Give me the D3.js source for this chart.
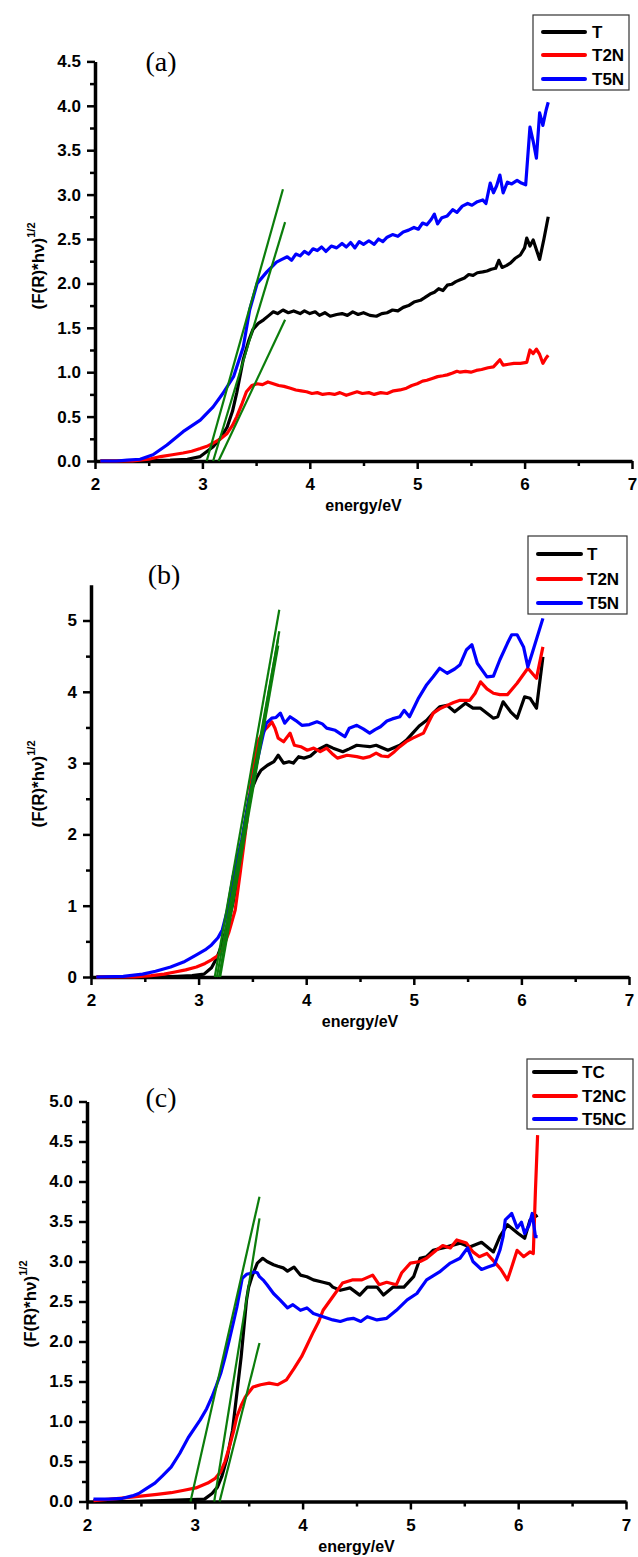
<!DOCTYPE html>
<html><head><meta charset="utf-8">
<script src="https://cdnjs.cloudflare.com/ajax/libs/d3/7.8.5/d3.min.js"></script>
<style>
html,body{margin:0;padding:0;background:#fff;}
svg{display:block;}
</style></head>
<body><div id="chart"></div>
<script>
// ---------------- DATA ----------------
const xTickValues = [2,3,4,5,6,7];
const xTickLabels = ["2","3","4","5","6","7"];

// Panel (a)
const aLegend = ["T","T2N","T5N"];
const aYTicks = [0,0.5,1,1.5,2,2.5,3,3.5,4,4.5];
const aYTickLabels = ["0.0","0.5","1.0","1.5","2.0","2.5","3.0","3.5","4.0","4.5"];
const a_T = [[2.05,0],[2.4,0],[2.7,0.01],[2.86,0.02],[2.98,0.05],[3.10,0.16],[3.17,0.26],[3.23,0.38],[3.28,0.56],[3.32,0.77],[3.38,1.14],[3.43,1.35],[3.47,1.48],[3.52,1.55],[3.57,1.59],[3.62,1.64],[3.66,1.68],[3.70,1.66],[3.75,1.70],[3.80,1.67],[3.85,1.69],[3.91,1.66],[3.95,1.69],[4.0,1.66],[4.05,1.68],[4.09,1.64],[4.14,1.67],[4.19,1.63],[4.25,1.65],[4.3,1.66],[4.35,1.64],[4.40,1.68],[4.45,1.65],[4.5,1.67],[4.56,1.64],[4.62,1.63],[4.67,1.66],[4.72,1.67],[4.77,1.70],[4.82,1.69],[4.87,1.73],[4.92,1.75],[4.97,1.79],[5.03,1.81],[5.07,1.84],[5.12,1.88],[5.16,1.90],[5.20,1.94],[5.24,1.92],[5.28,1.98],[5.32,1.99],[5.36,2.02],[5.40,2.04],[5.44,2.06],[5.48,2.10],[5.52,2.09],[5.56,2.12],[5.61,2.13],[5.65,2.14],[5.69,2.16],[5.73,2.17],[5.76,2.26],[5.79,2.18],[5.83,2.20],[5.87,2.23],[5.91,2.28],[5.96,2.32],[6.00,2.40],[6.02,2.51],[6.05,2.42],[6.08,2.49],[6.11,2.38],[6.14,2.27],[6.18,2.50],[6.22,2.75]];
const a_T2N = [[2.05,0],[2.35,0.0],[2.5,0.02],[2.61,0.05],[2.72,0.07],[2.82,0.09],[2.9,0.11],[2.98,0.14],[3.05,0.17],[3.10,0.2],[3.17,0.25],[3.23,0.31],[3.28,0.40],[3.32,0.5],[3.37,0.65],[3.41,0.78],[3.46,0.85],[3.51,0.87],[3.56,0.86],[3.61,0.89],[3.66,0.87],[3.71,0.85],[3.76,0.84],[3.82,0.82],[3.87,0.80],[3.92,0.79],[3.97,0.78],[4.02,0.76],[4.07,0.77],[4.12,0.75],[4.18,0.76],[4.23,0.75],[4.28,0.77],[4.34,0.74],[4.39,0.76],[4.44,0.78],[4.49,0.76],[4.55,0.77],[4.6,0.75],[4.66,0.77],[4.72,0.76],[4.78,0.79],[4.84,0.80],[4.90,0.82],[4.95,0.85],[5.0,0.87],[5.05,0.90],[5.09,0.91],[5.14,0.93],[5.19,0.95],[5.24,0.96],[5.28,0.97],[5.33,0.99],[5.37,1.01],[5.40,1.00],[5.45,1.01],[5.50,1.00],[5.55,1.02],[5.60,1.03],[5.66,1.05],[5.71,1.06],[5.74,1.10],[5.77,1.14],[5.80,1.08],[5.85,1.09],[5.90,1.10],[5.96,1.10],[6.02,1.11],[6.05,1.25],[6.08,1.21],[6.11,1.26],[6.14,1.20],[6.17,1.10],[6.20,1.16],[6.22,1.19]];
const a_T5N = [[2.05,0],[2.2,0],[2.3,0.01],[2.42,0.02],[2.54,0.07],[2.67,0.18],[2.82,0.33],[2.98,0.46],[3.10,0.61],[3.19,0.76],[3.29,0.95],[3.38,1.28],[3.44,1.70],[3.51,2.0],[3.60,2.13],[3.69,2.24],[3.74,2.27],[3.79,2.30],[3.83,2.26],[3.87,2.33],[3.91,2.31],[3.95,2.36],[3.99,2.33],[4.03,2.39],[4.07,2.37],[4.11,2.41],[4.15,2.36],[4.2,2.42],[4.25,2.40],[4.3,2.45],[4.34,2.41],[4.38,2.46],[4.42,2.40],[4.46,2.47],[4.5,2.44],[4.55,2.48],[4.6,2.44],[4.64,2.50],[4.68,2.47],[4.72,2.52],[4.77,2.55],[4.82,2.53],[4.87,2.58],[4.92,2.60],[4.97,2.63],[5.01,2.61],[5.05,2.68],[5.09,2.66],[5.13,2.72],[5.16,2.78],[5.19,2.67],[5.23,2.74],[5.28,2.76],[5.33,2.83],[5.37,2.80],[5.42,2.87],[5.47,2.90],[5.51,2.88],[5.56,2.92],[5.61,2.94],[5.64,2.90],[5.68,3.13],[5.71,3.02],[5.74,3.10],[5.77,3.22],[5.80,3.02],[5.84,3.14],[5.88,3.12],[5.93,3.16],[5.97,3.13],[6.01,3.11],[6.05,3.76],[6.08,3.60],[6.11,3.41],[6.14,3.92],[6.17,3.78],[6.20,3.95],[6.22,4.04]];
const a_fit1 = [[3.04,0],[3.75,3.06]];
const a_fit2 = [[3.10,0],[3.77,2.69]];
const a_fit3 = [[3.15,0],[3.77,1.59]];

// Panel (b)
const bLegend = ["T","T2N","T5N"];
const bYTicks = [0,1,2,3,4,5];
const bYTickLabels = ["0","1","2","3","4","5"];
const b_T = [[2.05,0],[2.6,0.0],[2.8,0.01],[2.94,0.02],[3.05,0.04],[3.12,0.13],[3.17,0.27],[3.22,0.47],[3.27,0.75],[3.32,1.04],[3.36,1.40],[3.39,1.74],[3.43,2.15],[3.47,2.52],[3.50,2.66],[3.54,2.80],[3.58,2.90],[3.64,2.97],[3.70,3.02],[3.74,3.11],[3.79,3.0],[3.84,3.02],[3.88,3.0],[3.93,3.09],[3.98,3.07],[4.04,3.10],[4.10,3.18],[4.19,3.25],[4.25,3.21],[4.34,3.16],[4.40,3.20],[4.47,3.25],[4.53,3.24],[4.59,3.23],[4.65,3.25],[4.76,3.18],[4.87,3.25],[4.93,3.32],[4.99,3.42],[5.05,3.52],[5.12,3.60],[5.18,3.70],[5.24,3.79],[5.31,3.81],[5.38,3.72],[5.48,3.84],[5.55,3.77],[5.62,3.77],[5.68,3.70],[5.74,3.63],[5.78,3.65],[5.83,3.86],[5.90,3.72],[5.96,3.63],[6.03,3.93],[6.08,3.91],[6.14,3.77],[6.20,4.49]];
const b_T2N = [[2.05,0],[2.4,0.0],[2.56,0.02],[2.68,0.04],[2.78,0.07],[2.88,0.10],[2.98,0.14],[3.06,0.19],[3.12,0.24],[3.18,0.30],[3.22,0.38],[3.28,0.62],[3.34,0.94],[3.39,1.5],[3.45,2.2],[3.50,2.9],[3.55,3.30],[3.60,3.44],[3.65,3.52],[3.68,3.58],[3.71,3.49],[3.74,3.35],[3.79,3.30],[3.85,3.42],[3.89,3.25],[3.95,3.23],[4.01,3.18],[4.07,3.21],[4.13,3.16],[4.19,3.21],[4.25,3.12],[4.29,3.07],[4.38,3.11],[4.47,3.09],[4.53,3.07],[4.59,3.09],[4.65,3.14],[4.70,3.10],[4.76,3.09],[4.82,3.16],[4.87,3.23],[4.93,3.30],[4.99,3.35],[5.09,3.42],[5.14,3.58],[5.18,3.70],[5.24,3.76],[5.31,3.81],[5.37,3.85],[5.43,3.88],[5.52,3.88],[5.57,3.98],[5.62,4.14],[5.68,4.04],[5.74,3.98],[5.80,3.96],[5.87,3.96],[5.96,4.12],[6.06,4.33],[6.14,4.19],[6.20,4.63]];
const b_T5N = [[2.05,0],[2.3,0.01],[2.48,0.04],[2.6,0.08],[2.74,0.14],[2.86,0.21],[2.98,0.31],[3.06,0.38],[3.12,0.45],[3.18,0.55],[3.22,0.66],[3.27,0.95],[3.32,1.40],[3.40,1.92],[3.47,2.5],[3.54,3.0],[3.6,3.4],[3.63,3.56],[3.68,3.63],[3.72,3.64],[3.76,3.70],[3.80,3.56],[3.85,3.65],[3.90,3.60],[3.96,3.53],[4.03,3.54],[4.10,3.58],[4.15,3.55],[4.19,3.49],[4.27,3.46],[4.33,3.40],[4.36,3.37],[4.40,3.49],[4.47,3.53],[4.53,3.48],[4.59,3.42],[4.64,3.47],[4.69,3.51],[4.75,3.59],[4.80,3.62],[4.87,3.65],[4.91,3.74],[4.96,3.65],[5.04,3.90],[5.12,4.10],[5.18,4.21],[5.24,4.33],[5.31,4.26],[5.38,4.32],[5.43,4.38],[5.49,4.59],[5.54,4.66],[5.59,4.40],[5.68,4.21],[5.74,4.22],[5.80,4.45],[5.87,4.68],[5.91,4.80],[5.96,4.80],[6.02,4.63],[6.06,4.35],[6.10,4.54],[6.20,5.03]];
const b_fit1 = [[3.15,0],[3.75,5.15]];
const b_fit2 = [[3.19,0],[3.75,4.85]];
const b_fit3 = [[3.17,0],[3.74,4.75]];
const b_fit4 = [[3.20,0],[3.74,4.65]];

// Panel (c)
const cLegend = ["TC","T2NC","T5NC"];
const cYTicks = [0,0.5,1,1.5,2,2.5,3,3.5,4,4.5,5];
const cYTickLabels = ["0.0","0.5","1.0","1.5","2.0","2.5","3.0","3.5","4.0","4.5","5.0"];
const c_TC = [[2.06,0.01],[2.33,0.0],[2.7,0.01],[3.09,0.03],[3.16,0.1],[3.21,0.18],[3.25,0.31],[3.30,0.55],[3.35,0.89],[3.39,1.35],[3.43,1.81],[3.48,2.52],[3.50,2.68],[3.53,2.81],[3.58,2.98],[3.63,3.04],[3.67,3.0],[3.73,2.96],[3.77,2.94],[3.82,2.92],[3.86,2.88],[3.92,2.93],[3.98,2.83],[4.04,2.81],[4.10,2.77],[4.19,2.74],[4.25,2.72],[4.28,2.68],[4.35,2.64],[4.44,2.67],[4.53,2.58],[4.60,2.68],[4.69,2.68],[4.75,2.58],[4.84,2.68],[4.94,2.68],[5.03,2.81],[5.09,3.04],[5.15,3.06],[5.21,3.14],[5.33,3.18],[5.46,3.23],[5.55,3.18],[5.66,3.24],[5.77,3.12],[5.83,3.31],[5.90,3.46],[6.0,3.35],[6.06,3.29],[6.11,3.52],[6.18,3.58]];
const c_T2NC = [[2.06,0.01],[2.14,0.02],[2.3,0.04],[2.52,0.07],[2.65,0.09],[2.78,0.11],[2.9,0.14],[3.01,0.17],[3.12,0.23],[3.19,0.29],[3.24,0.37],[3.28,0.5],[3.32,0.68],[3.36,0.88],[3.39,1.06],[3.43,1.20],[3.47,1.31],[3.54,1.43],[3.61,1.46],[3.69,1.48],[3.77,1.46],[3.85,1.52],[3.92,1.66],[3.99,1.81],[4.04,1.95],[4.10,2.12],[4.15,2.25],[4.19,2.39],[4.28,2.56],[4.37,2.73],[4.46,2.77],[4.55,2.77],[4.65,2.83],[4.71,2.71],[4.78,2.74],[4.87,2.71],[4.92,2.86],[5.0,2.98],[5.09,3.0],[5.15,3.04],[5.24,3.14],[5.30,3.2],[5.37,3.17],[5.43,3.27],[5.52,3.23],[5.58,3.12],[5.64,3.06],[5.71,3.1],[5.79,2.98],[5.84,2.9],[5.90,2.77],[5.94,2.93],[5.99,3.14],[6.05,3.06],[6.11,3.12],[6.14,3.10],[6.16,3.89],[6.18,4.58]];
const c_T5NC = [[2.06,0.03],[2.2,0.03],[2.33,0.04],[2.42,0.07],[2.48,0.10],[2.55,0.16],[2.63,0.23],[2.7,0.32],[2.78,0.43],[2.86,0.60],[2.94,0.80],[3.0,0.92],[3.05,1.02],[3.11,1.16],[3.16,1.31],[3.20,1.45],[3.24,1.60],[3.28,1.80],[3.32,2.02],[3.36,2.25],[3.39,2.43],[3.44,2.79],[3.48,2.84],[3.51,2.85],[3.55,2.87],[3.58,2.86],[3.60,2.81],[3.64,2.76],[3.67,2.71],[3.73,2.60],[3.79,2.52],[3.86,2.42],[3.91,2.46],[3.98,2.39],[4.04,2.42],[4.10,2.35],[4.19,2.31],[4.28,2.27],[4.35,2.25],[4.42,2.28],[4.47,2.29],[4.54,2.25],[4.60,2.31],[4.69,2.27],[4.78,2.29],[4.87,2.39],[4.97,2.52],[5.06,2.60],[5.15,2.77],[5.27,2.87],[5.37,2.98],[5.46,3.04],[5.53,3.17],[5.58,3.0],[5.66,2.9],[5.72,2.93],[5.78,2.96],[5.83,3.14],[5.86,3.31],[5.88,3.52],[5.94,3.60],[5.99,3.42],[6.03,3.49],[6.06,3.35],[6.10,3.45],[6.13,3.60],[6.16,3.31],[6.18,3.31]];
const c_fit1 = [[2.96,0],[3.60,3.81]];
const c_fit2 = [[3.18,0],[3.60,3.54]];
const c_fit3 = [[3.23,0],[3.60,1.98]];

// ---------------- DRAWING ----------------
const W = 638, H = 1557;
const svg = d3.select("#chart").append("svg").attr("width", W).attr("height", H)
  .style("font-family", "'Liberation Sans', Arial, sans-serif");
svg.append("rect").attr("width", W).attr("height", H).attr("fill", "#fff");

const COLORS = ["#000000", "#ff0000", "#0000ff"];
const GREEN = "#0b7d0b";

function drawPanel(cfg) {
  const x = d3.scaleLinear().domain([2, 7]).range([cfg.left, cfg.right]);
  const y = d3.scaleLinear().domain([0, cfg.yMax]).range([cfg.y0, cfg.y0 - cfg.yMax * cfg.pxPerUnit]);
  const g = svg.append("g");

  const xMinor = d3.range(2.5, 7, 1);
  g.append("g").attr("transform", `translate(0,${cfg.y0})`)
    .call(d3.axisBottom(x).tickValues(xMinor).tickSize(5).tickSizeOuter(0).tickFormat(""))
    .call(s => s.select(".domain").remove())
    .call(s => s.selectAll("line").attr("stroke-width", 2.5));
  g.append("g").attr("transform", `translate(${cfg.left},0)`)
    .call(d3.axisLeft(y).tickValues(cfg.yMinor).tickSize(5).tickSizeOuter(0).tickFormat(""))
    .call(s => s.select(".domain").remove())
    .call(s => s.selectAll("line").attr("stroke-width", 2.5));

  const xa = g.append("g").attr("transform", `translate(0,${cfg.y0})`)
    .call(d3.axisBottom(x).tickValues(xTickValues).tickSize(8).tickSizeOuter(0)
      .tickFormat((d, i) => xTickLabels[i]).tickPadding(9));
  xa.select(".domain").attr("stroke-width", 3.5);
  xa.selectAll("line").attr("stroke-width", 2.5);
  xa.selectAll("text").attr("font-size", 17).attr("font-weight", "bold").attr("fill", "#000");

  const ya = g.append("g").attr("transform", `translate(${cfg.left},0)`)
    .call(d3.axisLeft(y).tickValues(cfg.yTicks).tickSize(8).tickSizeOuter(0)
      .tickFormat((d, i) => cfg.yLabels[i]).tickPadding(6));
  ya.select(".domain").attr("stroke-width", 3.5);
  ya.selectAll("line").attr("stroke-width", 2.5);
  ya.selectAll("text").attr("font-size", 17).attr("font-weight", "bold").attr("fill", "#000");

  const line = d3.line().x(d => x(d[0])).y(d => y(d[1]));
  cfg.series.forEach((s, i) => {
    g.append("path").datum(s).attr("d", line).attr("fill", "none")
      .attr("stroke", COLORS[i]).attr("stroke-width", 3.2).attr("stroke-linejoin", "round");
  });
  cfg.fits.forEach(f => {
    g.append("path").datum(f).attr("d", line).attr("fill", "none")
      .attr("stroke", GREEN).attr("stroke-width", 2.2);
  });

  g.append("text").attr("x", (cfg.left + cfg.right) / 2).attr("y", cfg.y0 + cfg.xTitleDy)
    .attr("text-anchor", "middle").attr("font-size", 16).attr("font-weight", "bold").text("energy/eV");
  const yt = g.append("text").attr("transform", `translate(${cfg.yTitleX},${cfg.yTitleY}) rotate(-90)`)
    .attr("text-anchor", "middle").attr("font-size", 17).attr("font-weight", "bold");
  yt.append("tspan").text("(F(R)*hν)");
  yt.append("tspan").attr("font-size", 11).attr("dy", -9).text("1/2");

  g.append("text").attr("x", cfg.labelX).attr("y", cfg.labelY).attr("text-anchor", "middle")
    .attr("font-family", "'Liberation Serif', 'Times New Roman', serif").attr("font-size", 28)
    .text(cfg.label);

  const L = cfg.legend;
  g.append("rect").attr("x", L.x0).attr("y", L.y0).attr("width", L.x1 - L.x0).attr("height", L.y1 - L.y0)
    .attr("fill", "#fff").attr("stroke", "#333").attr("stroke-width", 1.2);
  cfg.legendNames.forEach((name, i) => {
    const yy = L.rows[i];
    g.append("line").attr("x1", L.lx0).attr("x2", L.lx1).attr("y1", yy).attr("y2", yy)
      .attr("stroke", COLORS[i]).attr("stroke-width", 4).attr("stroke-linecap", "round");
    g.append("text").attr("x", L.tx).attr("y", yy + 6).attr("font-size", 17).attr("font-weight", "bold")
      .text(name);
  });
}

drawPanel({
  left: 95, right: 632, y0: 461, pxPerUnit: 88.8, yMax: 4.5,
  yTicks: aYTicks, yLabels: aYTickLabels, yMinor: d3.range(0.25, 4.5, 0.5),
  series: [a_T, a_T2N, a_T5N], fits: [a_fit1, a_fit2, a_fit3],
  xTitleDy: 50, yTitleX: 44, yTitleY: 266,
  label: "(a)", labelX: 161, labelY: 71,
  legendNames: aLegend,
  legend: {x0: 533, y0: 15, x1: 629, y1: 90, rows: [32, 55, 79], lx0: 543, lx1: 585, tx: 592}
});
drawPanel({
  left: 91, right: 629, y0: 977, pxPerUnit: 71.3, yMax: 5.5,
  yTicks: bYTicks, yLabels: bYTickLabels, yMinor: d3.range(0.5, 5.5, 1),
  series: [b_T, b_T2N, b_T5N], fits: [b_fit1, b_fit2, b_fit3, b_fit4],
  xTitleDy: 50, yTitleX: 44, yTitleY: 784,
  label: "(b)", labelX: 164, labelY: 584,
  legendNames: bLegend,
  legend: {x0: 528, y0: 536, x1: 627, y1: 614, rows: [554, 579, 603], lx0: 538, lx1: 581, tx: 587}
});
drawPanel({
  left: 87, right: 626, y0: 1501.5, pxPerUnit: 80, yMax: 5,
  yTicks: cYTicks, yLabels: cYTickLabels, yMinor: d3.range(0.25, 5, 0.5),
  series: [c_TC, c_T2NC, c_T5NC], fits: [c_fit1, c_fit2, c_fit3],
  xTitleDy: 50, yTitleX: 36, yTitleY: 1304,
  label: "(c)", labelX: 161, labelY: 1107,
  legendNames: cLegend,
  legend: {x0: 527, y0: 1059, x1: 633, y1: 1129, rows: [1072, 1096, 1119], lx0: 534, lx1: 576, tx: 582}
});
</script>
</body></html>
